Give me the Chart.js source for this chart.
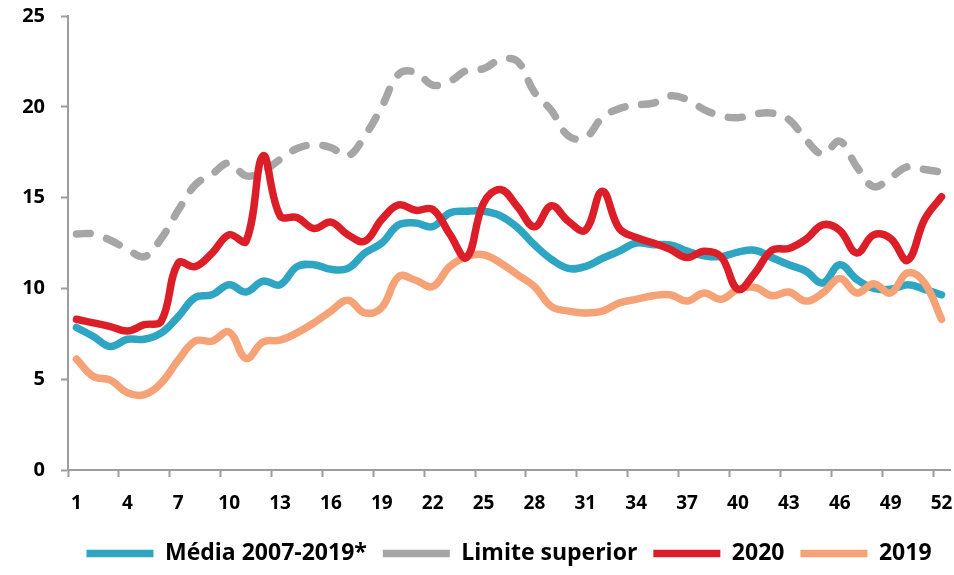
<!DOCTYPE html>
<html><head><meta charset="utf-8">
<script src="https://cdn.jsdelivr.net/npm/chart.js@4.4.0/dist/chart.umd.min.js"></script>
<style>html,body{margin:0;padding:0;background:#fff}#wrap{width:954px;height:575px;position:relative}</style>
</head><body><div id="wrap"><canvas id="c" width="954" height="575"></canvas></div>
<script>
const weeks = ['1','2','3','4','5','6','7','8','9','10','11','12','13','14','15','16','17','18','19','20','21','22','23','24','25','26','27','28','29','30','31','32','33','34','35','36','37','38','39','40','41','42','43','44','45','46','47','48','49','50','51','52'];
const seriesNames = ['Média 2007-2019*', 'Limite superior', '2020', '2019'];
const media = [7.85,7.35,6.8,7.2,7.2,7.55,8.45,9.5,9.65,10.2,9.8,10.4,10.2,11.2,11.3,11.05,11.1,11.95,12.5,13.5,13.6,13.4,14.15,14.25,14.25,14.0,13.35,12.4,11.6,11.1,11.2,11.65,12.05,12.5,12.4,12.4,12.05,11.8,11.75,12.0,12.1,11.7,11.3,10.95,10.3,11.3,10.5,10.0,9.95,10.2,9.95,9.65];
const limite = [13.0,13.0,12.65,12.15,11.75,12.75,14.3,15.7,16.3,16.9,16.2,16.45,17.1,17.7,17.9,17.75,17.3,18.4,20.0,21.8,21.9,21.2,21.4,22.0,22.1,22.6,22.5,20.8,19.8,18.4,18.3,19.4,19.9,20.1,20.2,20.6,20.4,19.85,19.5,19.4,19.6,19.65,19.3,18.2,17.4,18.1,16.7,15.6,16.1,16.7,16.55,16.4];
const y2020 = [8.3,8.1,7.9,7.65,8.0,8.2,11.4,11.2,11.95,12.95,12.6,17.3,14.0,13.9,13.3,13.65,12.95,12.6,13.8,14.6,14.3,14.35,13.0,11.7,14.7,15.45,14.5,13.4,14.55,13.7,13.2,15.35,13.3,12.8,12.5,12.15,11.7,12.05,11.75,9.95,10.85,12.1,12.2,12.7,13.5,13.2,11.95,12.95,12.75,11.55,13.8,15.05];
const y2019 = [6.1,5.15,4.95,4.25,4.15,4.8,6.05,7.1,7.1,7.6,6.15,7.05,7.15,7.55,8.1,8.75,9.35,8.65,8.95,10.65,10.45,10.1,11.2,11.75,11.85,11.4,10.75,10.1,9.0,8.75,8.65,8.75,9.2,9.4,9.6,9.65,9.3,9.75,9.4,9.95,10.05,9.6,9.8,9.3,9.75,10.55,9.75,10.25,9.75,10.85,10.3,8.3];
const yTicks = [0,5,10,15,20,25];

const AXIS = '#9d9d9d';
const FONT = "'Open Sans', 'DejaVu Sans', sans-serif";
const LEG_PAD = 16;

function line(label, data, color, extra) {
  return Object.assign({
    label, data, borderColor: color, backgroundColor: color,
    borderWidth: 7.5, pointRadius: 0, pointHoverRadius: 0, tension: 0.4,
    borderCapStyle: 'round', borderJoinStyle: 'round', fill: false
  }, extra || {});
}

new Chart(document.getElementById('c'), {
  type: 'line',
  data: {
    labels: weeks,
    datasets: [
      line(seriesNames[0], media, 'rgb(46,165,194)', {order: 2}),
      line(seriesNames[1], limite, 'rgb(166,166,166)', {order: 3, borderDash: [14, 17]}),
      line(seriesNames[2], y2020, 'rgb(220,30,40)', {order: 0}),
      line(seriesNames[3], y2019, 'rgb(244,162,118)', {order: 1})
    ]
  },
  options: {
    responsive: false, animation: false, devicePixelRatio: 1,
    layout: {padding: {top: 16, right: 4, left: 0, bottom: 0}},
    plugins: {
      tooltip: {enabled: false},
      legend: {
        position: 'bottom', align: 'center', fullSize: false,
        labels: {
          usePointStyle: true, pointStyle: 'line', pointStyleWidth: 67,
          padding: LEG_PAD, color: '#000',
          font: {family: FONT, size: 23, weight: 'bold'},
          sort: (a, b) => a.datasetIndex - b.datasetIndex
        }
      }
    },
    scales: {
      x: {
        type: 'category', offset: true,
        grid: {offset: true, drawOnChartArea: false, tickLength: 7, tickWidth: 2,
          tickColor: ctx => (ctx.index % 3 === 0 ? AXIS : 'rgba(0,0,0,0)')},
        border: {color: AXIS, width: 2},
        ticks: {autoSkip: false, maxRotation: 0, minRotation: 0, padding: 15, color: '#000',
          font: {family: FONT, size: 19, weight: 'bold'},
          callback: (v, i) => (i % 3 === 0 ? weeks[i] : '')},
        afterFit: s => { s.height = 575 - 470 - (23 + LEG_PAD + 10); s.paddingLeft = 0; s.paddingRight = 0; }
      },
      y: {
        min: yTicks[0], max: yTicks[yTicks.length - 1],
        grid: {drawOnChartArea: false, tickLength: 7, tickWidth: 2, tickColor: AXIS},
        border: {color: AXIS, width: 2},
        ticks: {stepSize: 5, padding: 16, color: '#000',
          font: {family: FONT, size: 20, weight: 'bold'}},
        afterFit: s => { s.width = 68; s.paddingTop = 0; s.paddingBottom = 0; }
      }
    }
  }
});
</script></body></html>
